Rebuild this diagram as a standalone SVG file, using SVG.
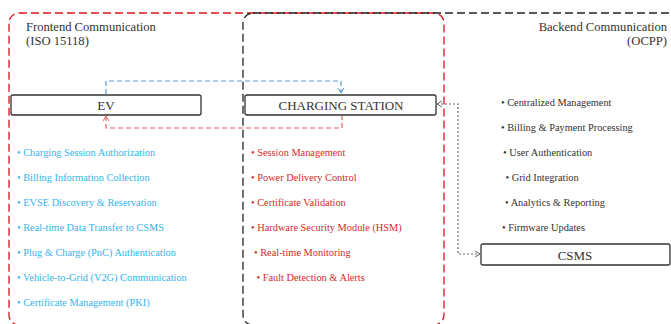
<svg xmlns="http://www.w3.org/2000/svg" width="671" height="324" viewBox="0 0 671 324">
  <defs>
    <style>
      .title { font-family: "Liberation Serif", "Times New Roman", serif; font-size: 12.6px; fill: #333; }
      .node rect { fill: #fff; stroke: #333; stroke-width: 1.3; }
      .node text { font-family: "Liberation Serif", "Times New Roman", serif; font-size: 13px; fill: #333; text-anchor: middle; }
      .item { font-family: "Liberation Serif", "Times New Roman", serif; font-size: 10.35px; }
      .blue { fill: #35b4ec; }
      .red { fill: #d42a2a; }
      .gray { fill: #333; }
    </style>
    <marker id="arrBlue" markerWidth="8" markerHeight="8" refX="6" refY="4" orient="auto" markerUnits="userSpaceOnUse">
      <path d="M1,1 L6,4 L1,7" fill="none" stroke="#5b9bd5" stroke-width="1"/>
    </marker>
    <marker id="arrRed" markerWidth="8" markerHeight="8" refX="6" refY="4" orient="auto" markerUnits="userSpaceOnUse">
      <path d="M1,1 L6,4 L1,7" fill="none" stroke="#e06666" stroke-width="1"/>
    </marker>
    <marker id="arrGray" markerWidth="8" markerHeight="8" refX="6" refY="4" orient="auto-start-reverse" markerUnits="userSpaceOnUse">
      <path d="M1,1 L6,4 L1,7" fill="none" stroke="#666" stroke-width="1"/>
    </marker>
  </defs>

  <rect width="671" height="324" fill="#fff"/>

  <!-- communication zones -->
  <g id="zones">
    <rect id="frontend-zone" x="9" y="13" width="435" height="312" rx="10" fill="none" stroke="#e0101b" stroke-width="1.3" stroke-dasharray="8 4"/>
    <rect id="backend-zone" x="243" y="13" width="440" height="312" rx="10" fill="none" stroke="#222" stroke-width="1.3" stroke-dasharray="8 4"/>
    <text class="title" x="26" y="30.5">Frontend Communication</text>
    <text class="title" x="26" y="44.5">(ISO 15118)</text>
    <text class="title" x="667" y="30.5" text-anchor="end">Backend Communication</text>
    <text class="title" x="667" y="44.5" text-anchor="end">(OCPP)</text>
  </g>

  <!-- connectors -->
  <g id="connectors" fill="none">
    <path d="M106,94 V81 H341 V93" stroke="#5b9bd5" stroke-width="1.2" stroke-dasharray="5 3" marker-end="url(#arrBlue)"/>
    <path d="M342,115 V128 H106 V116" stroke="#e06666" stroke-width="1.2" stroke-dasharray="5 3" marker-end="url(#arrRed)"/>
    <path d="M437,104 H458 V254 H480" stroke="#666" stroke-width="1.2" stroke-dasharray="2 2" marker-start="url(#arrGray)" marker-end="url(#arrGray)"/>
  </g>

  <!-- nodes -->
  <g id="ev" class="node">
    <rect x="11" y="95" width="190" height="20" rx="2"/>
    <text x="106" y="110">EV</text>
  </g>
  <g id="charging-station" class="node">
    <rect x="245" y="95" width="191" height="20" rx="2"/>
    <text x="341" y="110">CHARGING STATION</text>
  </g>
  <g id="csms" class="node">
    <rect x="481" y="244" width="189" height="21" rx="2"/>
    <text x="575" y="259.5">CSMS</text>
  </g>

  <!-- EV functions -->
  <g id="ev-functions" class="item blue">
    <text x="17" y="156">• Charging Session Authorization</text>
    <text x="17" y="181">• Billing Information Collection</text>
    <text x="17" y="206">• EVSE Discovery &amp; Reservation</text>
    <text x="17" y="231">• Real-time Data Transfer to CSMS</text>
    <text x="17" y="256">• Plug &amp; Charge (PnC) Authentication</text>
    <text x="17" y="281">• Vehicle-to-Grid (V2G) Communication</text>
    <text x="17" y="306">• Certificate Management (PKI)</text>
  </g>

  <!-- charging station functions -->
  <g id="station-functions" class="item red">
    <text x="251" y="156">• Session Management</text>
    <text x="251" y="181">• Power Delivery Control</text>
    <text x="251" y="206">• Certificate Validation</text>
    <text x="251" y="231">• Hardware Security Module (HSM)</text>
    <text x="254" y="256">• Real-time Monitoring</text>
    <text x="256.5" y="281">• Fault Detection &amp; Alerts</text>
  </g>

  <!-- CSMS functions -->
  <g id="csms-functions" class="item gray">
    <text x="501" y="106">• Centralized Management</text>
    <text x="501" y="131">• Billing &amp; Payment Processing</text>
    <text x="503" y="156">• User Authentication</text>
    <text x="505.5" y="181">• Grid Integration</text>
    <text x="505" y="206">• Analytics &amp; Reporting</text>
    <text x="502" y="231">• Firmware Updates</text>
  </g>
</svg>
